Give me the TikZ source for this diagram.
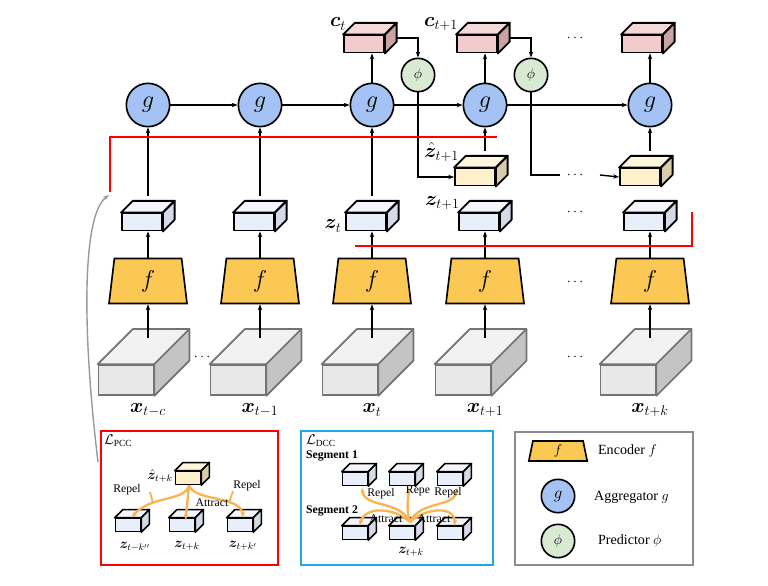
\documentclass[tikz,border=0pt]{standalone}
\usepackage{fontspec}
\setmainfont{Liberation Serif}
\usepackage{bm}
\usetikzlibrary{shapes.geometric,arrows.meta,calc}
\definecolor{zf}{HTML}{E8EEFA}\definecolor{zt}{HTML}{F4F6FC}\definecolor{zs}{HTML}{D5DAE6}
\definecolor{hf}{HTML}{FFF0CC}\definecolor{ht}{HTML}{FFF6DC}\definecolor{hs}{HTML}{D9CCA8}
\definecolor{cf}{HTML}{F2CCCC}\definecolor{ct}{HTML}{F5D9D9}\definecolor{cs}{HTML}{C9A3A3}
\definecolor{xf}{HTML}{E8E8E8}\definecolor{xt}{HTML}{F2F2F2}\definecolor{xs}{HTML}{C4C4C4}
\definecolor{gfill}{HTML}{A4C2F4}\definecolor{pfill}{HTML}{D9EAD3}\definecolor{ffill}{HTML}{FCC854}
\definecolor{orng}{HTML}{F8B450}\definecolor{dccblue}{HTML}{1AAAE6}
\newcommand\cubeface[5]{% node, depth, top, side, line
  \filldraw[#5,fill=#3] (#1.north west) -- ++(#2,#2) -- ([shift={(#2,#2)}]#1.north east) -- (#1.north east) -- cycle;
  \filldraw[#5,fill=#4] (#1.north east) -- ++(#2,#2) -- ([shift={(#2,#2)}]#1.south east) -- (#1.south east) -- cycle;}
\tikzset{
  cubeline/.style={draw, line width=1.6pt, line join=round},
  xline/.style={draw=black!55, line width=1.4pt, line join=round},
  zbox/.style={cubeline, fill=zf, minimum width=1.2cm, minimum height=0.51cm, inner sep=0},
  hbox/.style={zbox, fill=hf},
  cbox/.style={zbox, fill=cf},
  xbox/.style={xline, fill=xf, minimum width=1.65cm, minimum height=0.9cm, inner sep=0},
  sbox/.style={cubeline, line width=1.3pt, fill=zf, minimum width=0.75cm, minimum height=0.39cm, inner sep=0},
  gnode/.style={circle, draw, line width=1.4pt, fill=gfill, minimum size=1.3cm, inner sep=0, font=\huge},
  pnode/.style={circle, draw, line width=1.4pt, fill=pfill, minimum size=1.0cm, inner sep=0, font=\large},
  fnode/.style={trapezium, trapezium left angle=76, trapezium right angle=76, draw, line width=1.4pt,
    fill=ffill, minimum height=1.35cm, minimum width=2.34cm, trapezium stretches body, inner sep=0, font=\huge},
  arr/.style={-{Stealth[length=5pt]}, line width=1.2pt},
  oarr/.style={-{Stealth[length=5pt]}, draw=orng, line width=2pt},
  redline/.style={red, line width=1.8pt},
  lbl/.style={font=\LARGE},
  small/.style={font=\normalsize},
}
\begin{document}
\begin{tikzpicture}[x=0.03cm, y=-0.03cm]
\useasboundingbox (0,0) rectangle (768,585);

% columns
\foreach \c/\n in {148/1,260/2,372/3,485/4,650/6}{
  \node[xbox] (x\n) at (\c-22,380) {};
  \cubeface{x\n}{30pt}{xt}{xs}{xline}
  \node[fnode] (f\n) at (\c,281) {$f$};
  \node[zbox] (z\n) at (\c-6,222) {};
  \cubeface{z\n}{10pt}{zt}{zs}{cubeline}
  \node[gnode] (g\n) at (\c,105) {$g$};
  \draw[arr] ([yshift=22pt]x\n.north -| f\n.south) -- (f\n.south);
  \draw[arr] (f\n.north) -- (z\n.south -| f\n.north);
}
\foreach \n in {1,2,3}
  \draw[arr] ([yshift=14pt]z\n.north -| g\n.south) -- (g\n.south);
\foreach \n in {3,4,6}{
  \path (g\n.center |- 0,44) ++(-8,0) node[cbox] (cc\n) {};
  \cubeface{cc\n}{10pt}{ct}{cs}{cubeline}
  \draw[arr] (g\n.north) -- (cc\n.south -| g\n.north);
}
\foreach \n in {4,6}{
  \node[hbox] (h\n) at ($(g\n.center |- 0,177)+(-10,0)$) {};
  \cubeface{h\n}{10pt}{ht}{hs}{cubeline}
  \draw[arr] ([yshift=14pt]h\n.north -| g\n.south) -- (g\n.south);
}
\draw[arr] (g1) -- (g2);
\draw[arr] (g2) -- (g3);
\draw[arr] (g3) -- (g4);
\draw[arr] (g4) -- (g6);

% predictors
\node[pnode] (p1) at (418,75) {$\phi$};
\node[pnode] (p2) at (531,75) {$\phi$};
\draw[arr] ([shift={(10pt,5pt)}]cc3.east) -| (p1.north);
\draw[arr] ([shift={(10pt,5pt)}]cc4.east) -| (p2.north);
\draw[arr] (p1.south) |- (h4.west);
\draw[line width=1.2pt] (p2.south) |- (560,175);
\coordinate (dd) at (600,175);
\draw[arr] (dd) -- (h6.west);

% labels
\node[lbl] (lc3) at (338,24) {$\bm{c}_t$};
\node[lbl] (lc4) at (441,24) {$\bm{c}_{t+1}$};
\node[lbl, anchor=west, inner sep=1pt] (lh4) at (423,152) {$\hat{\bm{z}}_{t+1}$};
\node[lbl, anchor=west] (lz4) at (421,203) {$\bm{z}_{t+1}$};
\node[lbl] (lz3) at (333,226) {$\bm{z}_t$};
\node[lbl] (lx1) at (148,410) {$\bm{x}_{t-c}$};
\node[lbl] (lx2) at (260,410) {$\bm{x}_{t-1}$};
\node[lbl] (lx3) at (372,410) {$\bm{x}_{t}$};
\node[lbl] (lx4) at (485,410) {$\bm{x}_{t+1}$};
\node[lbl] (lx6) at (650,410) {$\bm{x}_{t+k}$};
\foreach \px/\py in {575/38,575/175,575/212,575/282,575/357,202/357}
  \node[font=\large] (dots) at (\px,\py) {$\cdots$};

% red brackets
\draw[redline] (110,192) -- (110,137) -- (497,137);
\draw[redline] (355,246) -- (692,246) -- (692,212);
\draw[-{Stealth[length=5pt]}, black!40, line width=1.2pt] (98,462) .. controls (82,330) and (82,215) .. (109,195);

% PCC panel
\draw[red, line width=2pt] (101,431) rectangle (278,565);
\node[anchor=west, font=\large] (lpcc) at (100,441) {$\mathcal{L}_{\mathrm{PCC}}$};
\node[sbox, fill=hf] (ph) at (188,478) {};
\cubeface{ph}{7pt}{ht}{hs}{cubeline, line width=1.3pt}
\node[font=\large] (lph) at (160,476) {$\hat{\bm{z}}_{t+k}$};
\foreach \n/\px in {a/128,b/182,c/240}{
  \node[sbox] (p\n) at (\px,525) {};
  \cubeface{p\n}{7pt}{zt}{zs}{cubeline, line width=1.3pt}
}
\node[font=\large] (lpa) at (135,547) {$\bm{z}_{t-k''}$};
\node[font=\large] (lpb) at (187,546) {$\bm{z}_{t+k}$};
\node[font=\large] (lpc) at (243,546) {$\bm{z}_{t+k'}$};
\draw[oarr] (ph.south -| 189,0) .. controls (185,502) and (150,495) .. ([xshift=3pt]pa.north);
\draw[oarr] (ph.south -| 189,0) -- ([yshift=-2pt,xshift=3pt]pb.north);
\draw[oarr] (ph.south -| 189,0) .. controls (195,502) and (240,495) .. ([xshift=3pt]pc.north);
\draw[orng, line width=1.6pt] (150,492) -- (153,503);
\draw[orng, line width=1.6pt] (233,491) -- (229,503);
\node[small] (rp1) at (127,490) {Repel};
\node[small] (at1) at (212,503) {Attract};
\node[small] (rp2) at (247,486) {Repel};

% DCC panel
\draw[dccblue, line width=2pt] (301,431) rectangle (493,565);
\node[anchor=west, font=\large] (ldcc) at (302,441) {$\mathcal{L}_{\mathrm{DCC}}$};
\node[anchor=west, font=\bfseries] (seg1) at (302,456) {Segment 1};
\node[anchor=west, font=\bfseries] (seg2) at (302,511) {Segment 2};
\foreach \n/\px in {1/355,2/402,3/450}{
  \node[sbox] (u\n) at (\px,479) {};
  \cubeface{u\n}{7pt}{zt}{zs}{cubeline, line width=1.3pt}
  \node[sbox] (d\n) at (\px,533) {};
  \cubeface{d\n}{7pt}{zt}{zs}{cubeline, line width=1.3pt}
}
\node[font=\large] (ldz) at (411,552) {$\bm{z}_{t+k}$};
\coordinate (src) at (410,522);
\draw[oarr] (src) .. controls (400,500) and (364,508) .. ([xshift=6pt,yshift=-1pt]u1.south);
\draw[oarr] (src) .. controls (406,508) and (408,500) .. ([xshift=6pt,yshift=-1pt]u2.south);
\draw[oarr] (src) .. controls (420,500) and (455,508) .. ([xshift=6pt,yshift=-1pt]u3.south);
\draw[oarr] (src) .. controls (395,508) and (365,505) .. ([xshift=4pt]d1.north);
\draw[oarr] (src) .. controls (425,508) and (455,505) .. ([xshift=4pt]d3.north);
\node[small] (rd1) at (381,494) {Repel};
\node[small] (rd2) at (418,491) {Repe};
\node[small] (rd3) at (448,493) {Repel};
\node[small] (ad1) at (386,519) {Attract};
\node[small] (ad2) at (434,519) {Attract};

% legend
\draw[black!45, line width=2pt] (515,432) rectangle (693,565);
\node[fnode, minimum height=0.6cm, minimum width=1.75cm, trapezium left angle=72, trapezium right angle=72, font=\large] (lf) at (558,451) {$f$};
\node[gnode, minimum size=1.0cm, font=\Large] (lg) at (558,496) {$g$};
\node[pnode] (lp) at (558,541) {$\phi$};
\node[anchor=west, font=\large] (tf) at (594,451) {Encoder $f$};
\node[anchor=west, font=\large] (tg) at (590,497) {Aggregator $g$};
\node[anchor=west, font=\large] (tp) at (594,541) {Predictor $\phi$};
\end{tikzpicture}
\end{document}
